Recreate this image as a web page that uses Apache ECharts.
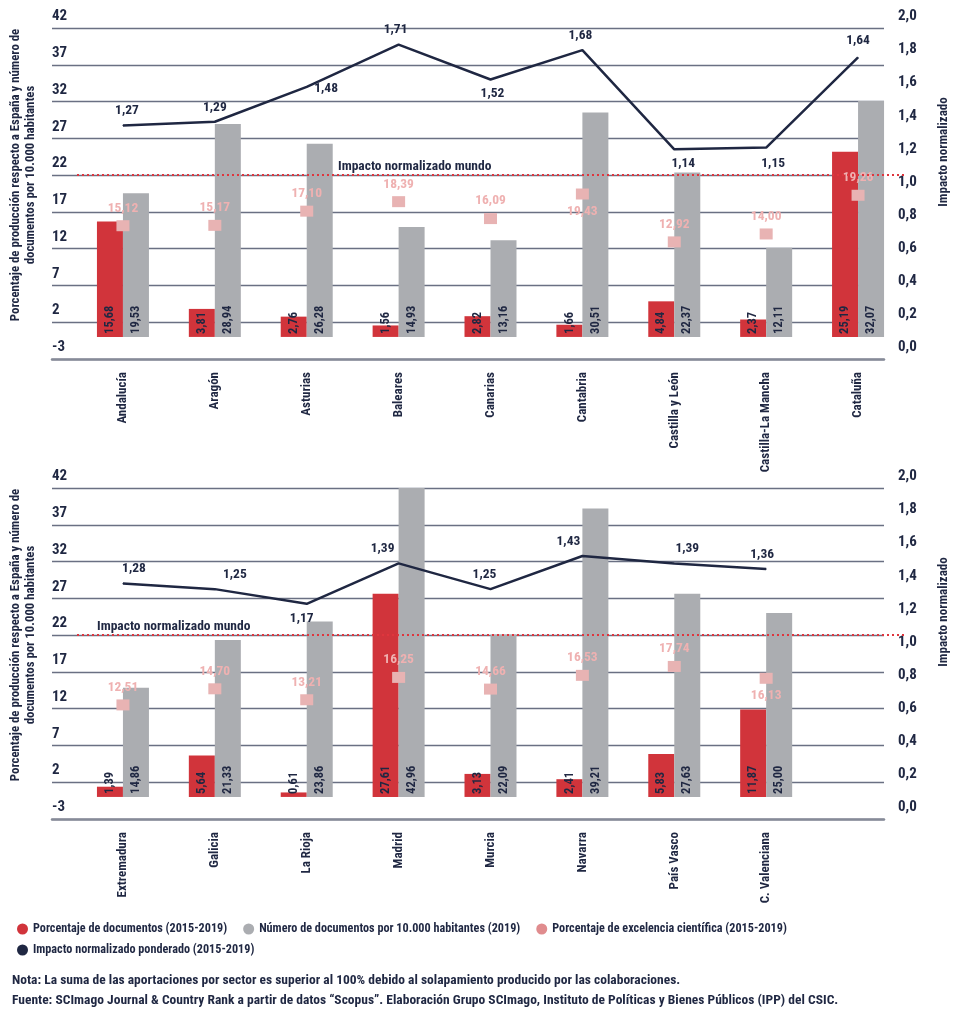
<!DOCTYPE html>
<html>
<head>
<meta charset="utf-8">
<script src="https://cdn.jsdelivr.net/npm/echarts@6/dist/echarts.min.js"></script>
<style>
html,body{margin:0;padding:0;background:#fff;}
#chart{width:961px;height:1024px;}
</style>
</head>
<body>
<div id="chart"></div>
<script>
// ---------- DATA ----------
const categoriesTop = ['Andalucía', 'Aragón', 'Asturias', 'Baleares', 'Canarias', 'Cantabria', 'Castilla y León', 'Castilla-La Mancha', 'Cataluña'];
const docsPctTop = [15.68, 3.81, 2.76, 1.56, 2.82, 1.66, 4.84, 2.37, 25.19];
const docsPer10kTop = [19.53, 28.94, 26.28, 14.93, 13.16, 30.51, 22.37, 12.11, 32.07];
const excellenceTop = [15.12, 15.17, 17.10, 18.39, 16.09, 19.43, 12.92, 14.00, 19.26];
const impactTop = [1.27, 1.29, 1.48, 1.71, 1.52, 1.68, 1.14, 1.15, 1.64];

const categoriesBottom = ['Extremadura', 'Galicia', 'La Rioja', 'Madrid', 'Murcia', 'Navarra', 'País Vasco', 'C. Valenciana', ''];
const docsPctBottom = [1.39, 5.64, 0.61, 27.61, 3.13, 2.41, 5.83, 11.87];
const docsPer10kBottom = [14.86, 21.33, 23.86, 42.96, 22.09, 39.21, 27.63, 25.00];
const excellenceBottom = [12.51, 14.70, 13.21, 16.25, 14.66, 16.53, 17.74, 16.13];
const impactBottom = [1.28, 1.25, 1.17, 1.39, 1.25, 1.43, 1.39, 1.36];

const worldImpact = 1.0;
const leftTicks = { min: -3, max: 42, interval: 5 };
const rightTicks = { min: 0, max: 2, interval: 0.2 };

const seriesNames = [
  'Porcentaje de documentos (2015-2019)',
  'Número de documentos por 10.000 habitantes (2019)',
  'Porcentaje de excelencia científica (2015-2019)',
  'Impacto normalizado ponderado (2015-2019)'
];
const refLineName = 'Impacto normalizado mundo';
const leftTitle = 'Porcentaje de producción respecto a España y número de\ndocumentos por 10.000 habitantes';
const rightTitle = 'Impacto normalizado';
const noteText = 'Nota: La suma de las aportaciones por sector es superior al 100% debido al solapamiento producido por las colaboraciones.';
const sourceText = 'Fuente: SCImago Journal & Country Rank a partir de datos “Scopus”. Elaboración Grupo SCImago, Instituto de Políticas y Bienes Públicos (IPP) del CSIC.';

// ---------- STYLE (label placements) ----------
const excLabelPosTop = ['top','top','top','top','top','bottom','top','top','top'];
const excLabelPosBottom = ['top','top','top','top','top','top','top','bottom'];
const impLabelTop = [
  {p:'top', o:[4,0]}, {p:'top', o:[0,0]}, {p:'right', o:[0,2]}, {p:'top', o:[-3,0]},
  {p:'bottom', o:[2,0]}, {p:'top', o:[-2,0]}, {p:'bottom', o:[9,0]}, {p:'bottom', o:[7,2]}, {p:'top', o:[0,-2]}
];
const impLabelBottom = [
  {p:'top', o:[11,0]}, {p:'top', o:[20,0]}, {p:'bottom', o:[-5,0]}, {p:'top', o:[-16,0]},
  {p:'top', o:[-6,0]}, {p:'top', o:[-14,0]}, {p:'top', o:[13,0]}, {p:'top', o:[-4,0]}
];

const FONT = "'Roboto Condensed','Open Sans Condensed','DejaVu Sans Condensed',sans-serif";
const NAVY = '#1f2742';
const RED = '#d1343b';
const GRAY = '#abadb1';
const PINK = '#e8b3b3';
const PINK_TXT = '#efb1b1';
const GRIDC = '#6a7083';

const fmt = (v, d) => v.toFixed(d).replace('.', ',');

const chart = echarts.init(document.getElementById('chart'), null, { renderer: 'canvas' });

const TOPS = [28, 488];
const GH = 331;

const grids = [];
const xAxes = [];
const yAxes = [];
TOPS.forEach((t, k) => {
  const cats = k === 0 ? categoriesTop : categoriesBottom;
  grids.push({ left: 52, right: 961 - 884, top: t, height: GH, containLabel: false });
  grids.push({ left: 77, right: 961 - 904, top: t, height: GH, containLabel: false });
  const gL = 2 * k, gD = 2 * k + 1;
  xAxes.push({
    gridIndex: gL, type: 'value', min: 0, max: 1,
    axisLine: { show: true, onZero: false, lineStyle: { color: '#868b98', width: 2.5 } },
    axisTick: { show: false }, axisLabel: { show: false }, splitLine: { show: false }
  });
  xAxes.push({
    gridIndex: gD, type: 'category', data: cats,
    axisLine: { show: false }, axisTick: { show: false }, splitLine: { show: false },
    axisLabel: {
      interval: 0, rotate: 90, margin: 13, align: 'right', verticalAlign: 'middle',
      padding: [24, 0, 0, 0],
      color: NAVY, fontFamily: FONT, fontWeight: 'bold', fontSize: 13
    }
  });
  yAxes.push({
    gridIndex: gL, type: 'value', position: 'left',
    min: leftTicks.min, max: leftTicks.max, interval: leftTicks.interval,
    axisLine: { show: false }, axisTick: { show: false },
    splitLine: { show: true, lineStyle: { color: GRIDC, width: 1.4 } },
    axisLabel: {
      inside: true, margin: 0, align: 'left', verticalAlign: 'bottom', padding: [0, 0, 4, 0],
      color: NAVY, fontFamily: FONT, fontWeight: 'bold', fontSize: 15,
      showMinLabel: true, showMaxLabel: true
    }
  });
  yAxes.push({
    gridIndex: gL, type: 'value', position: 'right',
    min: rightTicks.min, max: rightTicks.max, interval: rightTicks.interval,
    axisLine: { show: false }, axisTick: { show: false }, splitLine: { show: false },
    axisLabel: {
      margin: 14, align: 'left', verticalAlign: 'bottom', padding: [0, 0, 4, 0],
      color: NAVY, fontFamily: FONT, fontWeight: 'bold', fontSize: 15,
      formatter: v => fmt(v, 1), showMinLabel: true, showMaxLabel: true
    }
  });
  yAxes.push({ gridIndex: gD, type: 'value', show: false, min: leftTicks.min, max: leftTicks.max, splitLine: { show: false } });
  yAxes.push({ gridIndex: gD, type: 'value', show: false, min: 0, max: 1.8, splitLine: { show: false } });
});

function barLabel() {
  return {
    show: true, position: 'insideBottom', rotate: 90, align: 'left', verticalAlign: 'middle', distance: 3,
    color: NAVY, fontFamily: FONT, fontWeight: 'bold', fontSize: 12.5,
    formatter: p => fmt(p.value, 2)
  };
}

function buildSeries(k) {
  const xi = 2 * k + 1;
  const yl = 4 * k + 2, yr = 4 * k + 3;
  const red = k === 0 ? docsPctTop : docsPctBottom;
  const gray = k === 0 ? docsPer10kTop : docsPer10kBottom;
  const exc = k === 0 ? excellenceTop : excellenceBottom;
  const imp = k === 0 ? impactTop : impactBottom;
  const excPos = k === 0 ? excLabelPosTop : excLabelPosBottom;
  const impLab = k === 0 ? impLabelTop : impLabelBottom;
  return [
    {
      name: seriesNames[0], type: 'bar', xAxisIndex: xi, yAxisIndex: yl,
      data: red, barWidth: 26, barGap: '0%', itemStyle: { color: RED }, label: barLabel(), z: 2
    },
    {
      name: seriesNames[1], type: 'bar', xAxisIndex: xi, yAxisIndex: yl,
      data: gray, barWidth: 26, barGap: '0%', itemStyle: { color: GRAY }, label: barLabel(), z: 2
    },
    {
      name: seriesNames[2], type: 'scatter', xAxisIndex: xi, yAxisIndex: yl,
      symbol: 'rect', symbolSize: [13, 11], itemStyle: { color: PINK, opacity: 1 }, z: 3,
      data: exc.map((v, i) => ({
        value: v,
        label: { position: excPos[i] }
      })),
      label: {
        show: true, distance: 5, color: PINK_TXT, fontFamily: FONT, fontWeight: 'bold', fontSize: 13.5,
        formatter: p => fmt(p.value, 2)
      }
    },
    {
      name: seriesNames[3], type: 'line', xAxisIndex: xi, yAxisIndex: yr,
      symbol: 'circle', symbolSize: 1, showSymbol: true,
      lineStyle: { color: NAVY, width: 2.5 }, itemStyle: { color: NAVY }, z: 4,
      data: imp.map((v, i) => ({
        value: v,
        label: { position: impLab[i].p, offset: impLab[i].o }
      })),
      label: {
        show: true, distance: 7, color: NAVY, fontFamily: FONT, fontWeight: 'bold', fontSize: 13.5,
        formatter: p => fmt(p.value, 2)
      },
      markLine: {
        silent: true, symbol: ['none', 'none'], animation: false,
        lineStyle: { color: '#e0353d', type: [2, 3], width: 2 },
        label: {
          show: true, position: 'insideStartTop', distance: k === 0 ? [261, 1] : [20, 1],
          formatter: refLineName, color: NAVY, fontFamily: FONT, fontWeight: 'bold', fontSize: 13.5
        },
        data: [{ yAxis: worldImpact }]
      }
    }
  ];
}

const legendText = { color: NAVY, fontFamily: FONT, fontWeight: 'bold', fontSize: 12.2 };
const legendColors = [RED, GRAY, '#e08c8e', NAVY];

const graphics = [];
TOPS.forEach((t, k) => {
  const off = k * 460;
  graphics.push({
    type: 'text', x: 23, y: 175 + off, rotation: Math.PI / 2,
    style: { text: leftTitle, textAlign: 'center', textVerticalAlign: 'middle',
      font: "bold 12.8px " + FONT, fill: NAVY, lineHeight: 15 }
  });
  graphics.push({
    type: 'text', x: 944, y: 152 + off, rotation: Math.PI / 2,
    style: { text: rightTitle, textAlign: 'center', textVerticalAlign: 'middle',
      font: "bold 13px " + FONT, fill: NAVY }
  });
});
graphics.push({ type: 'text', left: 12, top: 974, style: { text: noteText, font: "bold 13.5px " + FONT, fill: NAVY } });
graphics.push({ type: 'text', left: 12, top: 994, style: { text: sourceText, font: "bold 13.5px " + FONT, fill: NAVY } });

chart.setOption({
  animation: false,
  backgroundColor: '#ffffff',
  textStyle: { fontFamily: FONT },
  grid: grids,
  xAxis: xAxes,
  yAxis: yAxes,
  legend: [
    {
      left: 12, top: 918, itemGap: 16, itemWidth: 11, itemHeight: 11, icon: 'circle',
      textStyle: legendText, selectedMode: false,
      data: seriesNames.slice(0, 3).map((n, i) => ({ name: n, itemStyle: { color: legendColors[i] } }))
    },
    {
      left: 12, top: 939, itemGap: 16, itemWidth: 11, itemHeight: 11, icon: 'circle',
      textStyle: legendText, selectedMode: false,
      data: [{ name: seriesNames[3], itemStyle: { color: legendColors[3] } }]
    }
  ],
  graphic: graphics,
  series: [...buildSeries(0), ...buildSeries(1)]
});
</script>
</body>
</html>
